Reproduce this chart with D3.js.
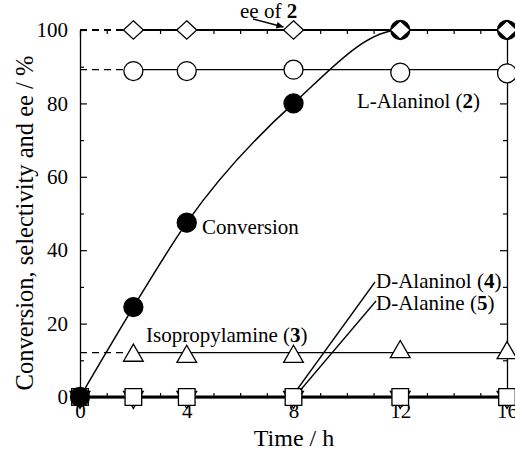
<!DOCTYPE html>
<html>
<head>
<meta charset="utf-8">
<script src="https://cdn.jsdelivr.net/npm/d3@7"></script>
<style>
  body { margin: 0; background: #fff; }
</style>
</head>
<body>
<div id="chart"></div>
<script>
// values
var hours = [2, 4, 8, 12, 16];
var convHours = [0, 2, 4, 8, 12, 16];
var conversion = [0, 24.5, 47.5, 80, 100, 100];
var eeOf2 = [100, 100, 100, 100, 100];
var lAlaninol = [88.8, 88.8, 89.2, 88.4, 88.2];
var isopropylamine = [11.3, 11.0, 11.0, 12.3, 12.0];
var dHours = [0, 2, 4, 8, 12, 16];
var dAlaninol = [0, 0, 0, 0, 0, 0];
var dAlanine = [0, 0, 0, 0, 0, 0];
// levels of the flat fit lines
var eeLevel = 100, lAlaninolLevel = 89.2, isoLevel = 12.1, dLevel = 0;

var yMajor = [0, 20, 40, 60, 80, 100];
var yMinor = [10, 30, 50, 70, 90];
var xMajor = [0, 4, 8, 12, 16];
var xMinor = [1, 2, 3, 5, 6, 7, 9, 10, 11, 13, 14, 15];

var serif = '"Liberation Serif", "Times New Roman", Tinos';
var width = 515, height = 451;
var svg = d3.select('#chart').append('svg')
  .attr('width', width)
  .attr('height', height);

var x = d3.scaleLinear().domain([0, 16]).range([80, 507]);
var y = d3.scaleLinear().domain([0, 100]).range([397, 30]);

function styleAxis(g) {
  g.attr('font-family', null).attr('font-size', null);
  g.selectAll('.tick line').attr('stroke', '#000').attr('stroke-width', 1.2);
  g.selectAll('.domain').attr('stroke', '#000').attr('stroke-width', 1.3);
  g.selectAll('text').attr('fill', '#000')
    .style('font-family', serif).style('font-size', '21px');
}

// left
svg.append('g').attr('transform', 'translate(' + x(0) + ',0)')
  .call(d3.axisLeft(y).tickValues(yMajor).tickSize(-7).tickSizeOuter(0).tickPadding(12).tickFormat(d3.format('d')))
  .call(styleAxis);
svg.append('g').attr('transform', 'translate(' + x(0) + ',0)')
  .call(d3.axisLeft(y).tickValues(yMinor).tickSize(-4).tickFormat(''))
  .call(function(g) { g.select('.domain').remove(); })
  .call(styleAxis);
// right
svg.append('g').attr('transform', 'translate(' + x(16) + ',0)')
  .call(d3.axisRight(y).tickValues(yMajor).tickSize(-7).tickSizeOuter(0).tickFormat(''))
  .call(styleAxis);
svg.append('g').attr('transform', 'translate(' + x(16) + ',0)')
  .call(d3.axisRight(y).tickValues(yMinor).tickSize(-4).tickFormat(''))
  .call(function(g) { g.select('.domain').remove(); })
  .call(styleAxis);
// bottom
svg.append('g').attr('transform', 'translate(0,' + y(0) + ')')
  .call(d3.axisBottom(x).tickValues(xMajor).tickSize(-7).tickSizeOuter(0).tickPadding(6))
  .call(styleAxis);
svg.append('g').attr('transform', 'translate(0,' + y(0) + ')')
  .call(d3.axisBottom(x).tickValues(xMinor).tickSize(-4).tickFormat(''))
  .call(function(g) { g.select('.domain').remove(); })
  .call(styleAxis);
// top (ticks only)
svg.append('g').attr('transform', 'translate(0,' + y(100) + ')')
  .call(d3.axisTop(x).tickValues(xMajor).tickSize(-7).tickFormat(''))
  .call(function(g) { g.select('.domain').remove(); })
  .call(styleAxis);
svg.append('g').attr('transform', 'translate(0,' + y(100) + ')')
  .call(d3.axisTop(x).tickValues(xMinor).tickSize(-4).tickFormat(''))
  .call(function(g) { g.select('.domain').remove(); })
  .call(styleAxis);

// axis titles
svg.append('text')
  .attr('transform', 'translate(33,' + 223 + ') rotate(-90)')
  .attr('text-anchor', 'middle')
  .style('font-family', serif).style('font-size', '24.5px')
  .text('Conversion, selectivity and ee / %');
svg.append('text')
  .attr('x', 294).attr('y', 446)
  .attr('text-anchor', 'middle')
  .style('font-family', serif).style('font-size', '24px')
  .text('Time / h');

// flat fit lines, dashed before the first sample
function flatLine(level, sw) {
  svg.append('line')
    .attr('x1', x(0)).attr('x2', x(2))
    .attr('y1', y(level)).attr('y2', y(level))
    .attr('stroke', '#000').attr('stroke-width', sw)
    .attr('stroke-dasharray', '7,5');
  svg.append('line')
    .attr('x1', x(2)).attr('x2', x(16))
    .attr('y1', y(level)).attr('y2', y(level))
    .attr('stroke', '#000').attr('stroke-width', sw);
}
flatLine(eeLevel, 2.2);
flatLine(lAlaninolLevel, 1.3);
flatLine(isoLevel, 1.3);
svg.append('line')
  .attr('x1', x(0)).attr('x2', x(16))
  .attr('y1', y(dLevel)).attr('y2', y(dLevel))
  .attr('stroke', '#000').attr('stroke-width', 3);

// conversion curve
var convData = convHours.map(function(h, i) { return [h, conversion[i]]; });
svg.append('path')
  .datum(convData)
  .attr('fill', 'none')
  .attr('stroke', '#000')
  .attr('stroke-width', 1.5)
  .attr('d', d3.line().x(function(d) { return x(d[0]); }).y(function(d) { return y(d[1]); }).curve(d3.curveMonotoneX));

// markers
function zip(hs, vs) { return hs.map(function(h, i) { return [h, vs[i]]; }); }
var triSize = 5.7 * 5.7 * 3 * Math.sqrt(3);

function markers(data, type, size, fill, rotate) {
  svg.append('g').selectAll('path')
    .data(data)
    .enter()
    .append('path')
    .attr('d', d3.symbol().type(type).size(size))
    .attr('transform', function(d) { return 'translate(' + x(d[0]) + ',' + y(d[1]) + ')' + (rotate ? ' rotate(180)' : ''); })
    .attr('fill', fill)
    .attr('stroke', '#000')
    .attr('stroke-width', 1.3);
}

var diamond = {
  draw: function(ctx, size) {
    ctx.moveTo(0, -9.2); ctx.lineTo(10, 0); ctx.lineTo(0, 9.2); ctx.lineTo(-10, 0); ctx.closePath();
  }
};

markers(zip(dHours, dAlanine), d3.symbolTriangle, triSize, '#fff', true);
markers(zip(dHours, dAlaninol), d3.symbolSquare, 16.6 * 16.6, '#fff', false);
markers(zip(hours, isopropylamine), d3.symbolTriangle, triSize, '#fff', false);
markers(zip(hours, lAlaninol), d3.symbolCircle, Math.PI * 9.5 * 9.5, '#fff', false);
markers(convData, d3.symbolCircle, Math.PI * 9.5 * 9.5, '#000', false);
markers(zip(hours, eeOf2), diamond, 1, '#fff', false);

// annotations
function label(px, py, name, num) {
  var t = svg.append('text').attr('x', px).attr('y', py)
    .style('font-family', serif).style('font-size', '21px');
  t.append('tspan').text(name + ' (');
  t.append('tspan').attr('font-weight', 'bold').text(num);
  t.append('tspan').text(')');
}
label(357, 108, 'L-Alaninol', '2');
label(146, 342, 'Isopropylamine', '3');
label(376, 288, 'D-Alaninol', '4');
label(376, 310, 'D-Alanine', '5');
svg.append('text').attr('x', 202).attr('y', 234)
  .style('font-family', serif).style('font-size', '21px').text('Conversion');

var ee = svg.append('text').attr('x', 240).attr('y', 18)
  .style('font-family', serif).style('font-size', '21px');
ee.append('tspan').text('ee of ');
ee.append('tspan').attr('font-weight', 'bold').text('2');

// arrow to the ee point at 8 h
svg.append('defs').append('marker')
  .attr('id', 'arr')
  .attr('viewBox', '0 0 10 10')
  .attr('refX', 10).attr('refY', 5)
  .attr('markerWidth', 9).attr('markerHeight', 7)
  .attr('markerUnits', 'userSpaceOnUse')
  .attr('orient', 'auto')
  .append('path').attr('d', 'M0,0L10,5L0,10Z').attr('fill', '#000');
svg.append('line')
  .attr('x1', 253).attr('y1', 19)
  .attr('x2', x(8) - 10).attr('y2', y(100) - 3)
  .attr('stroke', '#000').attr('stroke-width', 1.3)
  .attr('marker-end', 'url(#arr)');

// leader lines from the D labels to the 8 h square
svg.append('line')
  .attr('x1', 375).attr('y1', 282)
  .attr('x2', x(8) + 4).attr('y2', y(0) - 8)
  .attr('stroke', '#000').attr('stroke-width', 1.3);
svg.append('line')
  .attr('x1', 376).attr('y1', 301)
  .attr('x2', x(8) + 7).attr('y2', y(0) - 7)
  .attr('stroke', '#000').attr('stroke-width', 1.3);
</script>
</body>
</html>
